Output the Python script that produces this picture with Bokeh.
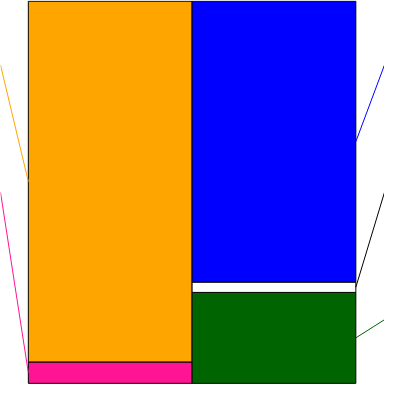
import numpy as np
from bokeh.plotting import figure
from bokeh.models import ColumnDataSource, Range1d
from bokeh.embed import file_html
from bokeh.resources import INLINE

# Left bar (bottom -> top)
left_names = ["deeppink item", "orange item"]
left_values = [5.6, 94.4]
left_colors = ["#FF1493", "#FFA500"]
left_line_colors = ["#FF1493", "#FFA500"]

# Right bar (bottom -> top)
right_names = ["green item", "white item", "blue item"]
right_values = [23.8, 2.7, 73.5]
right_colors = ["#006400", "#FFFFFF", "#0000FF"]
right_line_colors = ["#006400", "#000000", "#0000FF"]

W = 384
H = 384

x_start, x_end = -0.17, 2.175
p = figure(width=W, height=H, output_backend="svg", toolbar_location=None,
           x_range=Range1d(x_start, x_end), y_range=Range1d(-0.3, 100.2),
           min_border=0, min_border_left=0, min_border_right=0,
           min_border_top=0, min_border_bottom=0)
p.axis.visible = False
p.grid.visible = False
p.outline_line_color = None
p.background_fill_color = "white"
p.border_fill_color = "white"


def stack(values):
    tops = np.cumsum(values)
    bottoms = tops - np.array(values)
    return bottoms, tops


lb, lt = stack(left_values)
rb, rt = stack(right_values)

src_l = ColumnDataSource(dict(x=[0.5] * len(left_values), bottom=lb, top=lt, color=left_colors))
src_r = ColumnDataSource(dict(x=[1.5] * len(right_values), bottom=rb, top=rt, color=right_colors))
p.vbar(x="x", width=1, bottom="bottom", top="top", fill_color="color",
       line_color="black", line_width=1, source=src_l)
p.vbar(x="x", width=1, bottom="bottom", top="top", fill_color="color",
       line_color="black", line_width=1, source=src_r)

# leader lines: labels evenly spaced (outside view)
label_y = [100 * 5 / 6, 50, 100 / 6]

# left side: top segment first
l_mid = ((lb + lt) / 2)[::-1]
lcols = left_line_colors[::-1]
for i, (m, c) in enumerate(zip(l_mid, lcols)):
    p.line([x_start, 0], [label_y[i], m], line_color=c, line_width=1)

r_mid = ((rb + rt) / 2)[::-1]
rcols = right_line_colors[::-1]
for i, (m, c) in enumerate(zip(r_mid, rcols)):
    p.line([2, x_end], [m, label_y[i]], line_color=c, line_width=1)

open("out.html", "w").write(file_html(p, INLINE))
